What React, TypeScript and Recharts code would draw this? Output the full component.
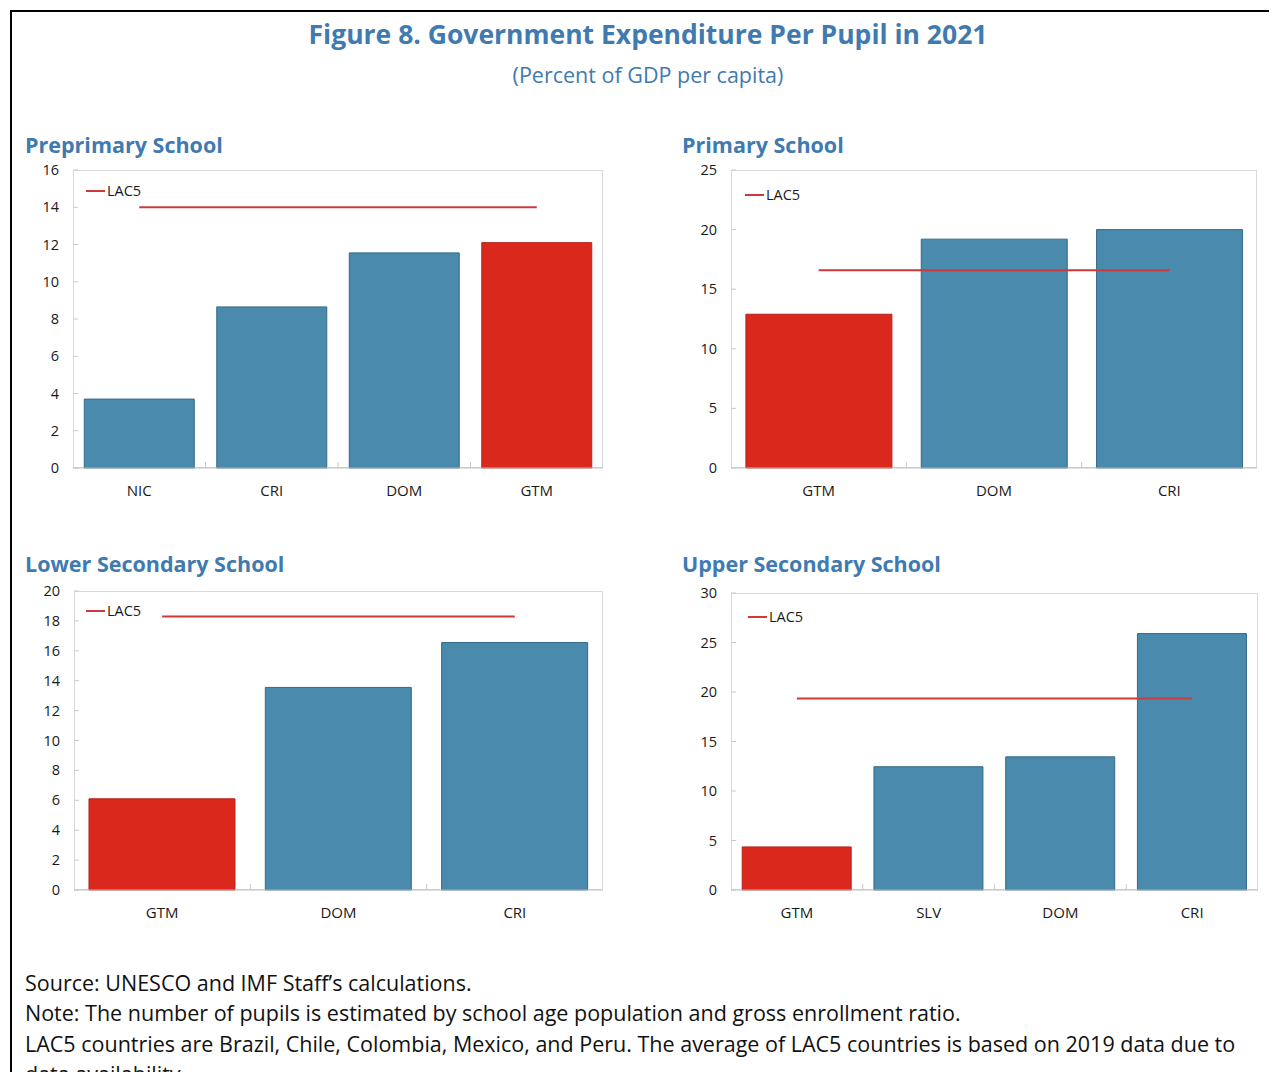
import { ComposedChart, Bar, Line, XAxis, YAxis, Legend, Cell } from "recharts"

// values (percent of GDP per capita)
const preprimaryCountries = ["NIC", "CRI", "DOM", "GTM"]
const preprimaryValues = [3.7, 8.65, 11.55, 12.1]
const preprimaryLac5 = 14.0
const preprimaryTicks = [0, 2, 4, 6, 8, 10, 12, 14, 16]

const primaryCountries = ["GTM", "DOM", "CRI"]
const primaryValues = [12.9, 19.2, 20.0]
const primaryLac5 = 16.6
const primaryTicks = [0, 5, 10, 15, 20, 25]

const lowerSecCountries = ["GTM", "DOM", "CRI"]
const lowerSecValues = [6.1, 13.55, 16.55]
const lowerSecLac5 = 18.3
const lowerSecTicks = [0, 2, 4, 6, 8, 10, 12, 14, 16, 18, 20]

const upperSecCountries = ["GTM", "SLV", "DOM", "CRI"]
const upperSecValues = [4.35, 12.45, 13.45, 25.9]
const upperSecLac5 = 19.35
const upperSecTicks = [0, 5, 10, 15, 20, 25, 30]

const footnotes = [
  "Source: UNESCO and IMF Staff\u2019s calculations.",
  "Note: The number of pupils is estimated by school age population and gross enrollment ratio.",
  "LAC5 countries are Brazil, Chile, Colombia, Mexico, and Peru. The average of LAC5 countries is based on 2019 data due to",
  "data availability.",
]

const FONT = "'Open Sans', 'Noto Sans', sans-serif"
const BLUE_TEXT = "#3f7ab0"
const BAR_BLUE = "#4a8aad"
const BAR_RED = "#da291c"
const LINE_RED = "#cc3b3b"
const HIGHLIGHT = "GTM"

const Y_AXIS_W = 60
const X_AXIS_H = 40

interface PanelProps {
  title: string
  countries: string[]
  values: number[]
  lac5: number
  ticks: number[]
  titleX: number
  titleY: number
  plotLeft: number
  plotTop: number
  plotRight: number
  plotBottom: number
  legendX: number
  legendY: number
}

function YTick(props: any) {
  const { x, y, payload } = props
  const axisX = x + 14
  return (
    <g>
      <line x1={axisX} x2={axisX + 5} y1={y} y2={y} stroke="#c9c9c9" />
      <text x={x} y={y} dy="0.35em" textAnchor="end" fontSize={14.5} fill="#1a1a1a" fontFamily={FONT}>
        {payload.value}
      </text>
    </g>
  )
}

function Panel(p: PanelProps) {
  const rows = p.countries.map((c, i) => ({ country: c, value: p.values[i], lac5: p.lac5 }))
  const chartLeft = p.plotLeft - Y_AXIS_W
  const chartTop = p.plotTop - 10
  const width = p.plotRight - chartLeft + 10
  const height = p.plotBottom - chartTop + X_AXIS_H
  const band = (p.plotRight - p.plotLeft) / p.countries.length

  const XTick = (props: any) => {
    const { x, y, payload, index } = props
    const axisY = y - 17
    const bx = x - band / 2
    return (
      <g>
        {index > 0 && <line x1={bx} x2={bx} y1={axisY} y2={axisY - 6} stroke="#c9c9c9" />}
        <text x={x} y={y} dy="0.71em" textAnchor="middle" fontSize={15} fill="#1a1a1a" fontFamily={FONT}>
          {payload.value}
        </text>
      </g>
    )
  }

  return (
    <>
      <div
        style={{
          position: "absolute",
          left: p.titleX,
          top: p.titleY - 15,
          lineHeight: "30px",
          fontSize: 21.5,
          fontWeight: 700,
          color: BLUE_TEXT,
          fontFamily: FONT,
          whiteSpace: "nowrap",
        }}
      >
        {p.title}
      </div>
      <div
        style={{
          position: "absolute",
          left: p.plotLeft,
          top: p.plotTop,
          width: p.plotRight - p.plotLeft,
          height: p.plotBottom - p.plotTop,
          boxSizing: "border-box",
          border: "1px solid #d9d9d9",
        }}
      />
      <div style={{ position: "absolute", left: chartLeft, top: chartTop }}>
        <ComposedChart
          width={width}
          height={height}
          data={rows}
          margin={{ top: 10, right: 10, bottom: 0, left: 0 }}
          barCategoryGap="8.5%"
        >
          <XAxis
            dataKey="country"
            height={X_AXIS_H}
            tickSize={8}
            tickMargin={9}
            tickLine={false}
            axisLine={{ stroke: "#bfbfbf" }}
            tick={XTick}
            interval={0}
          />
          <YAxis
            type="number"
            width={Y_AXIS_W}
            domain={[0, p.ticks[p.ticks.length - 1]]}
            ticks={p.ticks}
            interval={0}
            tickSize={8}
            tickMargin={6}
            tickLine={false}
            axisLine={false}
            tick={YTick}
          />
          <Legend
            layout="vertical"
            align="center"
            verticalAlign="middle"
            wrapperStyle={{ left: p.legendX - chartLeft, top: p.legendY - chartTop - 10, width: "auto", height: "auto" }}
            content={() => (
              <div style={{ display: "flex", alignItems: "center", fontFamily: FONT, fontSize: 14.5, color: "#1a1a1a" }}>
                <span style={{ display: "inline-block", width: 19, height: 2, background: LINE_RED, marginRight: 2 }} />
                LAC5
              </div>
            )}
          />
          <Bar dataKey="value" isAnimationActive={false} legendType="none">
            {rows.map((r) => (
              <Cell
                key={r.country}
                fill={r.country === HIGHLIGHT ? BAR_RED : BAR_BLUE}
                stroke={r.country === HIGHLIGHT ? "#b8231a" : "#35698a"}
                strokeWidth={1}
              />
            ))}
          </Bar>
          <Line
            dataKey="lac5"
            name="LAC5"
            stroke={LINE_RED}
            strokeWidth={2}
            dot={false}
            activeDot={false}
            isAnimationActive={false}
          />
        </ComposedChart>
      </div>
    </>
  )
}

export default function App() {
  return (
    <div
      style={{
        position: "relative",
        margin: -8,
        width: 1277,
        height: 1080,
        overflow: "hidden",
        background: "#fff",
        fontFamily: FONT,
      }}
    >
      <div
        style={{
          position: "absolute",
          left: 10,
          top: 10,
          width: 1320,
          height: 1120,
          border: "2px solid #000",
        }}
      />
      <div
        style={{
          position: "absolute",
          left: 148,
          width: 1000,
          top: 18,
          lineHeight: "32px",
          textAlign: "center",
          fontSize: 26.5,
          fontWeight: 700,
          color: BLUE_TEXT,
        }}
      >
        Figure 8. Government Expenditure Per Pupil in 2021
      </div>
      <div
        style={{
          position: "absolute",
          left: 148,
          width: 1000,
          top: 61,
          lineHeight: "28px",
          textAlign: "center",
          fontSize: 21.5,
          color: BLUE_TEXT,
        }}
      >
        (Percent of GDP per capita)
      </div>

      <Panel
        title="Preprimary School"
        countries={preprimaryCountries}
        values={preprimaryValues}
        lac5={preprimaryLac5}
        ticks={preprimaryTicks}
        titleX={25}
        titleY={145}
        plotLeft={73}
        plotTop={170}
        plotRight={603}
        plotBottom={468}
        legendX={86}
        legendY={191}
      />
      <Panel
        title="Primary School"
        countries={primaryCountries}
        values={primaryValues}
        lac5={primaryLac5}
        ticks={primaryTicks}
        titleX={682}
        titleY={145}
        plotLeft={731}
        plotTop={170}
        plotRight={1257}
        plotBottom={468}
        legendX={745}
        legendY={195}
      />
      <Panel
        title="Lower Secondary School"
        countries={lowerSecCountries}
        values={lowerSecValues}
        lac5={lowerSecLac5}
        ticks={lowerSecTicks}
        titleX={25}
        titleY={564}
        plotLeft={74}
        plotTop={591}
        plotRight={603}
        plotBottom={890}
        legendX={86}
        legendY={611}
      />
      <Panel
        title="Upper Secondary School"
        countries={upperSecCountries}
        values={upperSecValues}
        lac5={upperSecLac5}
        ticks={upperSecTicks}
        titleX={682}
        titleY={564}
        plotLeft={731}
        plotTop={593}
        plotRight={1258}
        plotBottom={890}
        legendX={748}
        legendY={617}
      />

      <div
        style={{
          position: "absolute",
          left: 25,
          top: 968,
          fontSize: 21.5,
          lineHeight: "30.3px",
          color: "#111",
          whiteSpace: "nowrap",
        }}
      >
        {footnotes.map((t) => (
          <div key={t}>{t}</div>
        ))}
      </div>
    </div>
  )
}
